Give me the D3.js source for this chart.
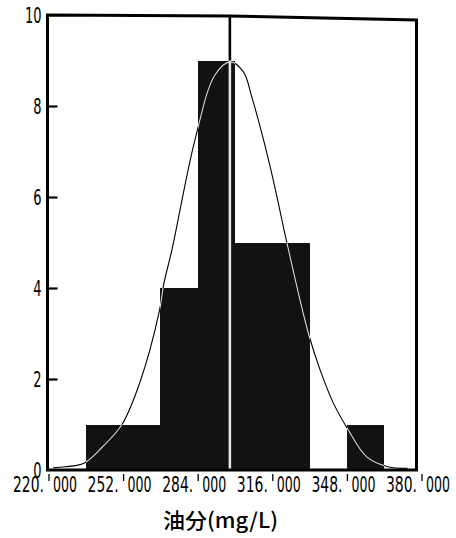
<!DOCTYPE html>
<html><head><meta charset="utf-8">
<script src="https://cdn.jsdelivr.net/npm/d3@7/dist/d3.min.js"></script>
<style>body{margin:0;background:#fff}svg{display:block}</style></head>
<body><svg id="c" width="456" height="538"></svg>
<script>
// ---- data ----
const binStarts = [236, 252, 268, 284, 300, 316, 332, 348];
const counts    = [1, 1, 4, 9, 5, 5, 0, 1];
const binWidth  = 16;
const xTicks = [220, 252, 284, 316, 348, 380];
const yTicks = [0, 2, 4, 6, 8, 10];
const meanValue = 297.8;
// normal curve
const curveX = [222, 227.1, 235.2, 243, 251.5, 259.3, 267.5, 269.5, 273.0, 282.8, 291.4, 297.9, 303.6, 307.2, 310.8, 315.1, 318.6, 322.1, 331.5, 336.5, 342.2, 348.6, 356.5, 366.5, 374];
const curveY = [0.05, 0.07, 0.15, 0.5, 1.0, 1.94, 3.48, 4.1, 4.85, 7.25, 8.68, 8.97, 8.75, 8.2, 7.54, 6.66, 5.86, 5.03, 3.0, 2.2, 1.47, 0.88, 0.29, 0.06, 0.04];
const xTitle = "油分(mg/L)";

// ---- chart ----
const svg = d3.select("#c");
svg.append("rect").attr("width", 456).attr("height", 538).attr("fill", "#fff");

const x = d3.scaleLinear().domain([220, 380]).range([48.5, 421.5]);
const y = d3.scaleLinear().domain([0, 10]).range([470, 15]);
const frameL = 47.5, frameR = 416.5;

const bins = binStarts.map((s, i) => ({x0: s, x1: s + binWidth, n: counts[i]})).filter(d => d.n > 0);

// bars
svg.append("g").attr("shape-rendering", "crispEdges").selectAll("rect").data(bins).join("rect")
  .attr("x", d => Math.round(x(d.x0))).attr("width", d => Math.round(x(d.x1)) - Math.round(x(d.x0)))
  .attr("y", d => y(d.n)).attr("height", d => y(0) - y(d.n))
  .attr("fill", "#121212");

// clip path = bars
const clip = svg.append("clipPath").attr("id", "barsClip");
clip.selectAll("rect").data(bins).join("rect")
  .attr("x", d => Math.round(x(d.x0))).attr("width", d => Math.round(x(d.x1)) - Math.round(x(d.x0)))
  .attr("y", d => y(d.n)).attr("height", d => y(0) - y(d.n));

const pts = curveX.map((v, i) => [v, curveY[i]]);
const line = d3.line().x(d => x(d[0])).y(d => y(d[1])).curve(d3.curveCatmullRom.alpha(0.5));

// black curve + mean line
svg.append("path").attr("d", line(pts)).attr("fill", "none").attr("stroke", "#000").attr("stroke-width", 1.1);
svg.append("line").attr("x1", x(meanValue)).attr("x2", x(meanValue)).attr("y1", y(10)).attr("y2", y(0))
  .attr("stroke", "#000").attr("stroke-width", 2.6);

// white parts inside bars
const inside = svg.append("g").attr("clip-path", "url(#barsClip)");
inside.append("path").attr("d", line(pts)).attr("fill", "none").attr("stroke", "#ddd").attr("stroke-width", 1.1);
inside.append("line").attr("x1", x(meanValue)).attr("x2", x(meanValue)).attr("y1", y(10)).attr("y2", y(0))
  .attr("stroke", "#e6e6e6").attr("stroke-width", 2.6);

// frame
svg.append("path")
  .attr("d", `M${frameL},${y(0)} L${frameL},${y(10)} L230,${y(10) + 1} L${frameR},${y(10) + 5} L${frameR},${y(0)} Z`)
  .attr("fill", "none").attr("stroke", "#000").attr("stroke-width", 3).attr("stroke-linejoin", "miter");

const font = "'DejaVu Sans Condensed','Liberation Sans',sans-serif";
const sx = 0.66; // horizontal squeeze of the narrow tick font

// y axis
const yAxis = d3.axisLeft(y).tickValues(yTicks).tickSize(-10).tickPadding(6).tickFormat(d3.format("d"));
const gy = svg.append("g").attr("transform", `translate(${frameL},0)`).call(yAxis);
gy.select(".domain").remove();
gy.selectAll(".tick line").attr("stroke", "#000").attr("stroke-width", 2.2)
  .filter(d => d === 0 || d === 10).remove();
gy.selectAll(".tick text")
  .attr("font-family", font).attr("font-size", 22).attr("fill", "#000")
  .attr("dy", "0.36em")
  .attr("x", -6 / sx).attr("transform", `scale(${sx},1)`)
  .attr("textLength", d => String(d).length * 8.3 / sx).attr("lengthAdjust", "spacingAndGlyphs");

// x axis
const xAxis = d3.axisBottom(x).tickValues(xTicks).tickSize(0).tickFormat(d3.format(".3f"));
const gx = svg.append("g").attr("transform", `translate(0,${y(0)})`).call(xAxis);
gx.select(".domain").remove();
gx.selectAll(".tick line").remove();
gx.selectAll(".tick").append("line").attr("y1", 4).attr("y2", 11).attr("stroke", "#000").attr("stroke-width", 1.3);
gx.selectAll(".tick text").each(function(d) {
  const t = d3.select(this);
  const s = d3.format(".3f")(d);
  const [a, b] = s.split(".");
  t.text(null).attr("y", 22).attr("dy", null).attr("transform", `scale(${sx},1)`)
    .attr("font-family", font).attr("font-size", 22).attr("fill", "#000").attr("text-anchor", "start");
  t.append("tspan").attr("x", -36 / sx).attr("textLength", 31 / sx).attr("lengthAdjust", "spacingAndGlyphs").text(a + ".");
  t.append("tspan").attr("x", 4 / sx).attr("textLength", 24 / sx).attr("lengthAdjust", "spacingAndGlyphs").text(b);
});

// x title
svg.append("text").attr("x", 163).attr("y", 528)
  .attr("font-family", "'Noto Sans CJK JP','Noto Sans CJK SC',sans-serif")
  .attr("font-size", 21).attr("font-weight", 500).attr("fill", "#000")
  .attr("textLength", 115).attr("lengthAdjust", "spacingAndGlyphs")
  .text(xTitle);
</script>
</body></html>
